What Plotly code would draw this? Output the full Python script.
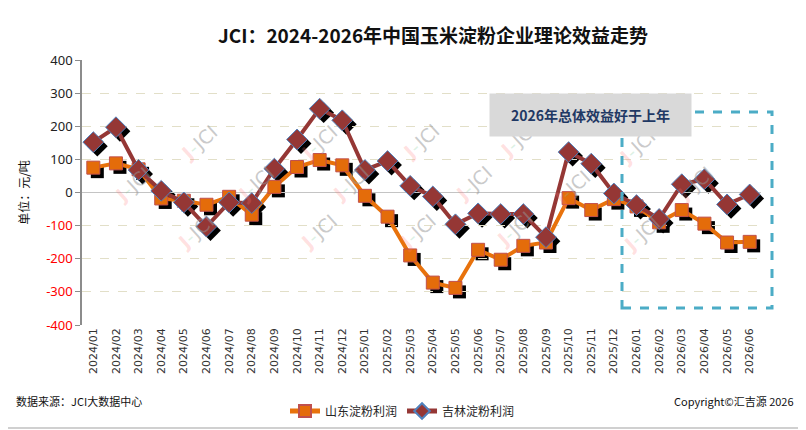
import plotly.graph_objects as go

months = ["2024/01", "2024/02", "2024/03", "2024/04", "2024/05", "2024/06",
          "2024/07", "2024/08", "2024/09", "2024/10", "2024/11", "2024/12",
          "2025/01", "2025/02", "2025/03", "2025/04", "2025/05", "2025/06",
          "2025/07", "2025/08", "2025/09", "2025/10", "2025/11", "2025/12",
          "2026/01", "2026/02", "2026/03", "2026/04", "2026/05", "2026/06"]

shandong = [75, 88, 70, -18, -25, -37, -13, -67, 17, 77, 98, 82,
            -10, -73, -190, -272, -288, -173, -203, -161, -151, -17, -53, -20,
            -42, -90, -53, -94, -151, -149]

jilin = [152, 197, 68, 5, -30, -103, -30, -32, 72, 160, 253, 218,
         68, 95, 20, -12, -96, -63, -65, -65, -135, 122, 87, -3,
         -38, -80, 25, 40, -36, -6]

yticks = [400, 300, 200, 100, 0, -100, -200, -300, -400]

FONT = "Noto Sans CJK SC"
OFF = 8  # page body margin; positions below are given in screen pixels
W, H = 806 - OFF, 430 - OFF
sh = 4  # shadow offset in px
L, T = 82 - OFF, 60 - OFF
pw, ph = 679 + sh, 265 + sh
R, B = W - L - pw, H - T - ph

fig = go.Figure()

# black drop shadows (drawn on a subplot shifted right/down by a few px)
fig.add_trace(go.Scatter(x=months, y=shandong, mode="markers", showlegend=False,
                         hoverinfo="skip", xaxis="x", yaxis="y",
                         marker=dict(symbol="square", size=13, color="black")))
fig.add_trace(go.Scatter(x=months, y=jilin, mode="markers", showlegend=False,
                         hoverinfo="skip", xaxis="x", yaxis="y",
                         marker=dict(symbol="diamond", size=16, color="black")))

fig.add_trace(go.Scatter(
    x=months, y=shandong, name="山东淀粉利润", mode="lines+markers",
    xaxis="x2", yaxis="y2",
    line=dict(color="#E8720C", width=4),
    marker=dict(symbol="square", size=13, color="#E46C0A",
                line=dict(color="#C0504D", width=1))))
fig.add_trace(go.Scatter(
    x=months, y=jilin, name="吉林淀粉利润", mode="lines+markers",
    xaxis="x2", yaxis="y2",
    line=dict(color="#953735", width=4),
    marker=dict(symbol="diamond", size=16, color="#953735",
                line=dict(color="#4F81BD", width=1))))

ticktext = []
for v in yticks:
    if v < 0:
        ticktext.append('<span style="color:#FF0000">%d</span>' % v)
    else:
        ticktext.append(str(v))

hidden = dict(visible=False, showgrid=False, zeroline=False, automargin=False)

fig.update_layout(
    width=W, height=H,
    margin=dict(l=L, r=R, t=T, b=B, autoexpand=False),
    paper_bgcolor="white", plot_bgcolor="rgba(0,0,0,0)",
    font=dict(family=FONT, size=12, color="#262626"),
    title=dict(text="<b>JCI：2024-2026年中国玉米淀粉企业理论效益走势</b>",
               x=(433 - OFF) / W, xref="container", xanchor="center",
               y=1 - (36 - OFF) / H, yref="container",
               yanchor="middle", font=dict(size=19, color="#111111", family=FONT)),
    xaxis=dict(hidden, type="category", categoryorder="array", categoryarray=months,
               domain=[sh / pw, 1], range=[-0.5, 29.5]),
    yaxis=dict(hidden, range=[-400, 400], domain=[0, (ph - sh) / ph]),
    xaxis2=dict(type="category", categoryorder="array", categoryarray=months,
                domain=[0, (pw - sh) / pw], range=[-0.5, 29.5], anchor="y2",
                tickangle=-90, tickfont=dict(size=11, color="#333333", family="DejaVu Sans"),
                showgrid=False, showline=False, ticks="", zeroline=False, automargin=False),
    yaxis2=dict(range=[-400, 400], domain=[sh / ph, 1], anchor="x2", automargin=False,
                tickvals=yticks, ticktext=ticktext,
                tickfont=dict(size=13, color="#222222", family="Noto Sans"),
                showline=True, linecolor="#8c8c8c", linewidth=1.5,
                ticks="outside", ticklen=5, tickcolor="#8c8c8c",
                showgrid=True, gridcolor="#E2DFC8", griddash="dash", gridwidth=1,
                zeroline=True, zerolinecolor="#C4C4C4", zerolinewidth=1.2,
                title=dict(text="单位：元/吨", font=dict(size=12, family=FONT, color="#111111"),
                           standoff=14)),
)


def px_x(x):
    return (x - OFF - L) / pw


def px_y(y):
    return (H - B - (y - OFF)) / ph


fig.update_layout(legend=dict(orientation="h", x=px_x(285), xanchor="left",
                              y=px_y(411), yanchor="middle", itemsizing="constant",
                              font=dict(size=12, family=FONT), tracegroupgap=0,
                              bgcolor="rgba(0,0,0,0)"))

# JCI watermarks
marks = [(173, 118), (293, 118), (420, 117), (543, 115), (662, 122),
         (107, 185), (230, 184), (350, 184), (473, 184), (597, 188), (720, 184),
         (170, 257), (293, 257), (417, 257), (540, 254), (667, 259)]
for mx, my in marks:
    fig.add_annotation(xref="paper", yref="paper", x=px_x(mx), y=px_y(my),
                       text='<span style="color:rgba(255,120,120,0.45)"><b>J</b></span>'
                            '<span style="color:rgba(120,200,150,0.5)">-</span>'
                            'JCI',
                       textangle=-42, showarrow=False,
                       font=dict(size=19, color="rgba(150,150,150,0.5)", family="DejaVu Sans"))

# highlighted 2026 window
fig.add_shape(type="rect", xref="paper", yref="paper",
              x0=px_x(622), x1=px_x(772), y0=px_y(308), y1=px_y(112),
              line=dict(color="#4BACC6", width=3, dash="dash"), fillcolor="rgba(0,0,0,0)")
fig.add_annotation(xref="paper", yref="paper", x=px_x(692), y=px_y(93),
                   text="<b>2026年总体效益好于上年</b>", showarrow=False,
                   width=199, height=40, bgcolor="#D9D9D9",
                   font=dict(size=14, color="#1F3864", family=FONT))

# footer
fig.add_annotation(xref="paper", yref="paper", x=px_x(14), y=px_y(411), xanchor="left",
                   text="数据来源：JCI大数据中心", showarrow=False,
                   font=dict(size=11, color="#111111", family=FONT))
fig.add_annotation(xref="paper", yref="paper", x=px_x(796), y=px_y(411), xanchor="right",
                   text="Copyright©汇吉源 2026", showarrow=False,
                   font=dict(size=11, color="#111111", family=FONT))

# outer frame (right and bottom edges)
fig.add_shape(type="line", xref="paper", yref="paper",
              x0=px_x(804), x1=px_x(804), y0=px_y(0), y1=px_y(428),
              line=dict(color="#D0D0D0", width=2))
fig.add_shape(type="line", xref="paper", yref="paper",
              x0=px_x(8), x1=px_x(804), y0=px_y(428), y1=px_y(428),
              line=dict(color="#D0D0D0", width=2))

fig.write_html("out.html")
